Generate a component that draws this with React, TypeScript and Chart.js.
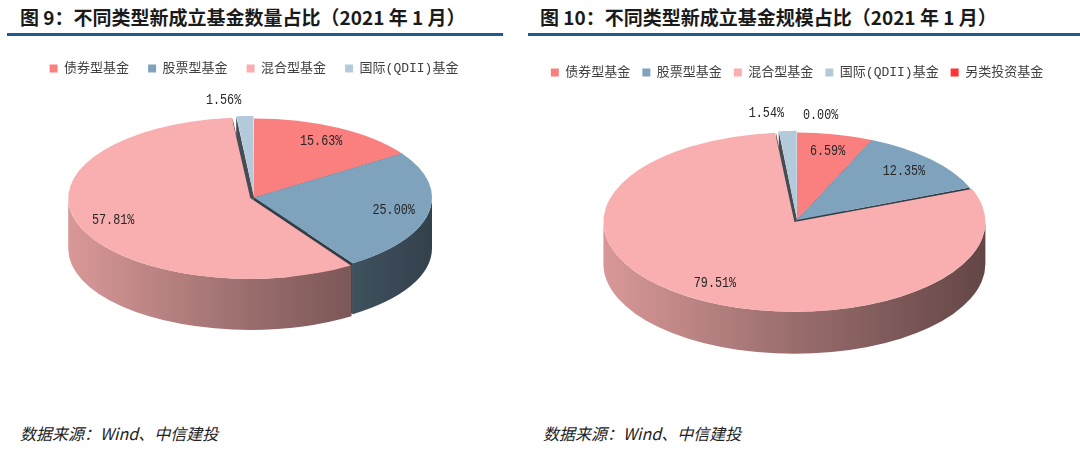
import React, { useEffect, useRef } from 'react';
import { Chart, registerables } from 'chart.js';

Chart.register(...registerables);

// ---- data ----
const countLabels = ['债券型基金', '股票型基金', '混合型基金', '国际(QDII)基金'];
const countShare = [15.63, 25.0, 57.81, 1.56];
const sizeLabels = ['债券型基金', '股票型基金', '混合型基金', '国际(QDII)基金', '另类投资基金'];
const sizeShare = [6.59, 12.35, 79.51, 1.54, 0.0];
const sliceColors = ['#FA8080', '#7FA3BD', '#F9AFAF', '#B3CADA', '#FF3333'];
const countOffsets = [0, 0, 16, 12];
const sizeOffsets = [0, 0, 20, 8, 0];

const LABEL_FONT = "'Liberation Mono', 'Noto Sans CJK SC', monospace";

function shade(hex: string, f: number): string {
  const n = parseInt(hex.slice(1), 16);
  const r = Math.round(((n >> 16) & 255) * f);
  const g = Math.round(((n >> 8) & 255) * f);
  const b = Math.round((n & 255) * f);
  return `rgb(${r},${g},${b})`;
}

function arcGeom(arc: any, k: number) {
  const off = (arc.options.offset || 0) / 4;
  const circ = arc.endAngle - arc.startAngle;
  const mid = (arc.startAngle + arc.endAngle) / 2;
  const fix = 1 - Math.sin(Math.min(Math.PI, circ || 0));
  const rr = arc.outerRadius + off * fix;
  const ox = arc.x + Math.cos(mid) * off;
  const oy = arc.y + k * Math.sin(mid) * off;
  return { off, circ, mid, rr, ox, oy };
}

const pie3d = {
  id: 'pie3d',
  beforeDatasetsDraw(chart: any, _args: any, opts: any) {
    const ctx = chart.ctx;
    const meta = chart.getDatasetMeta(0);
    const arcs = meta.data;
    if (!arcs.length) return;
    const k = opts.tilt;
    const depth = opts.depth;
    const colors = chart.data.datasets[0].backgroundColor;
    const cx = arcs[0].x;
    const cy = arcs[0].y;
    ctx.save();
    // radial cut faces
    arcs.forEach((arc: any, i: number) => {
      const g = arcGeom(arc, k);
      if (g.circ <= 0) return;
      [arc.startAngle, arc.endAngle].forEach((a: number) => {
        const px = g.ox + g.rr * Math.cos(a);
        const py = g.oy + k * g.rr * Math.sin(a);
        ctx.beginPath();
        ctx.moveTo(g.ox, g.oy);
        ctx.lineTo(px, py);
        ctx.lineTo(px, py + depth);
        ctx.lineTo(g.ox, g.oy + depth);
        ctx.closePath();
        ctx.fillStyle = shade(colors[i], 0.38);
        ctx.fill();
      });
    });
    // outer walls (front half only)
    arcs.forEach((arc: any, i: number) => {
      const g = arcGeom(arc, k);
      if (g.circ <= 0) return;
      const a1 = Math.max(arc.startAngle, 0);
      const a2 = Math.min(arc.endAngle, Math.PI);
      if (a2 <= a1) return;
      const ry = k * g.rr;
      ctx.beginPath();
      ctx.ellipse(g.ox, g.oy, g.rr, ry, 0, a1, a2, false);
      ctx.ellipse(g.ox, g.oy + depth, g.rr, ry, 0, a2, a1, true);
      ctx.closePath();
      const grad = ctx.createLinearGradient(g.ox - g.rr, 0, g.ox + g.rr, 0);
      grad.addColorStop(0, shade(colors[i], 0.87));
      grad.addColorStop(0.5, shade(colors[i], 0.62));
      grad.addColorStop(1, shade(colors[i], 0.4));
      ctx.fillStyle = grad;
      ctx.fill();
    });
    ctx.restore();
    // squash the top faces into an ellipse
    ctx.save();
    ctx.translate(cx, cy);
    ctx.scale(1, k);
    ctx.translate(-cx, -cy);
  },
  afterDatasetsDraw(chart: any, _args: any, opts: any) {
    const ctx = chart.ctx;
    ctx.restore();
    const meta = chart.getDatasetMeta(0);
    const arcs = meta.data;
    const values = chart.data.datasets[0].data;
    const k = opts.tilt;
    const sx = 0.84;
    arcs.forEach((arc: any, i: number) => {
      const v = values[i];
      const g = arcGeom(arc, k);
      const small = v < 3;
      const f = small ? 1.2 : opts.labelFrac;
      const c = Math.cos(g.mid);
      let px = g.ox + g.rr * f * c;
      const py = g.oy + k * g.rr * f * Math.sin(g.mid);
      let align: CanvasTextAlign = 'center';
      if (small) {
        if (c < -1e-6) {
          align = 'right';
          px -= 2;
        } else {
          align = 'left';
          px += 6;
        }
      }
      ctx.save();
      ctx.translate(px, py);
      ctx.scale(sx, 1);
      ctx.font = `14px ${LABEL_FONT}`;
      ctx.fillStyle = '#262626';
      ctx.textBaseline = 'middle';
      ctx.textAlign = align;
      ctx.fillText(v.toFixed(2) + '%', 0, 0);
      ctx.restore();
    });
  },
};

type PieProps = {
  labels: string[];
  values: number[];
  offsets: number[];
  radius: number;
  tilt: number;
  depth: number;
  legendPadding: number;
  padBottom: number;
  width: number;
  height: number;
  style: React.CSSProperties;
};

function Pie3D(p: PieProps) {
  const ref = useRef<HTMLCanvasElement | null>(null);
  useEffect(() => {
    if (!ref.current) return;
    const chart = new Chart(ref.current, {
      type: 'pie',
      data: {
        labels: p.labels,
        datasets: [
          {
            data: p.values,
            backgroundColor: sliceColors.slice(0, p.values.length),
            borderWidth: 0,
            offset: p.offsets,
            radius: p.radius,
            clip: false,
          } as any,
        ],
      },
      options: {
        responsive: false,
        animation: false,
        devicePixelRatio: 1,
        layout: { padding: { bottom: p.padBottom } },
        plugins: {
          legend: {
            position: 'top',
            labels: {
              boxWidth: 8,
              boxHeight: 8,
              padding: p.legendPadding,
              color: '#404040',
              font: { size: 13, family: LABEL_FONT },
            },
          },
          tooltip: { enabled: false },
          pie3d: { tilt: p.tilt, depth: p.depth, labelFrac: 0.8 },
        } as any,
      },
      plugins: [pie3d as any],
    });
    return () => chart.destroy();
  }, []);
  return <canvas ref={ref} width={p.width} height={p.height} style={{ position: 'absolute', display: 'block', ...p.style }} />;
}

const titleStyle: React.CSSProperties = {
  position: 'absolute',
  top: 4,
  fontFamily: "'Noto Sans CJK SC', sans-serif",
  fontWeight: 700,
  fontSize: 19,
  color: '#1a1a1a',
  whiteSpace: 'nowrap',
  lineHeight: '26px',
};

const sourceStyle: React.CSSProperties = {
  position: 'absolute',
  top: 421,
  fontFamily: "'Noto Sans CJK SC', sans-serif",
  fontStyle: 'italic',
  fontSize: 16,
  color: '#222222',
  whiteSpace: 'nowrap',
  lineHeight: '24px',
};

export default function App() {
  return (
    <div style={{ position: 'fixed', left: 0, top: 0, width: 1080, height: 452, background: '#ffffff', overflow: 'hidden' }}>
      <div style={{ ...titleStyle, left: 20 }}>图 9：不同类型新成立基金数量占比（2021 年 1 月）</div>
      <div style={{ ...titleStyle, left: 540 }}>图 10：不同类型新成立基金规模占比（2021 年 1 月）</div>
      <div style={{ position: 'absolute', left: 7, top: 33, width: 496, height: 3, background: '#1E5A93' }} />
      <div style={{ position: 'absolute', left: 528, top: 33, width: 552, height: 3, background: '#1E5A93' }} />
      <Pie3D
        labels={countLabels}
        values={countShare}
        offsets={countOffsets}
        radius={178}
        tilt={0.444}
        depth={51}
        legendPadding={19}
        padBottom={93}
        width={508}
        height={360}
        style={{ left: 0, top: 43 }}
      />
      <Pie3D
        labels={sizeLabels}
        values={sizeShare}
        offsets={sizeOffsets}
        radius={186}
        tilt={0.47}
        depth={42}
        legendPadding={12}
        padBottom={48}
        width={534}
        height={345}
        style={{ left: 530, top: 54 }}
      />
      <div style={{ ...sourceStyle, left: 20 }}>数据来源：Wind、中信建投</div>
      <div style={{ ...sourceStyle, left: 543 }}>数据来源：Wind、中信建投</div>
    </div>
  );
}
